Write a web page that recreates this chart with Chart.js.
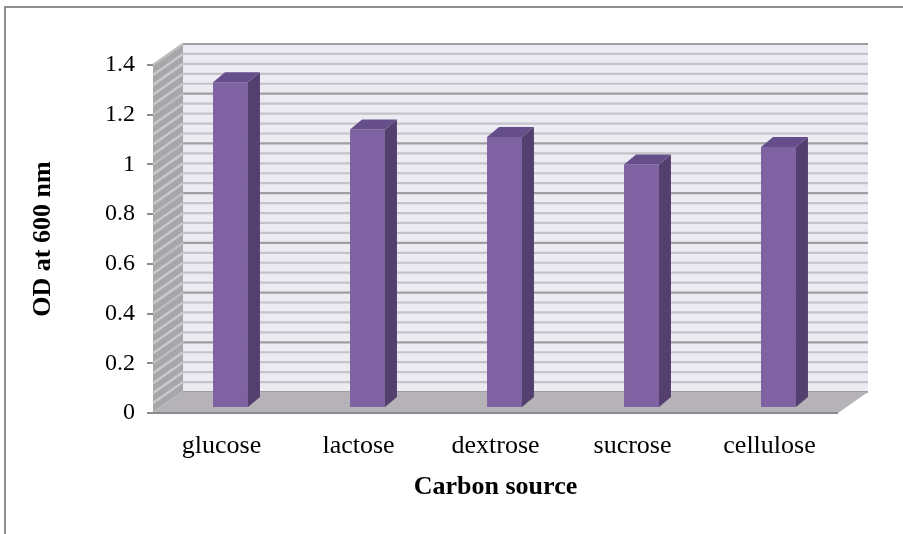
<!DOCTYPE html>
<html>
<head>
<meta charset="utf-8">
<script src="https://cdn.jsdelivr.net/npm/chart.js@4/dist/chart.umd.min.js"></script>
<style>
  html, body { margin: 0; padding: 0; background: #ffffff; }
  #wrap { width: 903px; height: 534px; position: relative; }
</style>
</head>
<body>
<div id="wrap"><canvas id="chart" width="903" height="534"></canvas></div>
<script>
// Optical density of the culture grown on each carbon source
const categories = ['glucose', 'lactose', 'dextrose', 'sucrose', 'cellulose'];
const odValues = [1.31, 1.12, 1.09, 0.98, 1.05];
const yTickLabels = ['0', '0.2', '0.4', '0.6', '0.8', '1', '1.2', '1.4'];
const yMax = 1.4;
const yStep = 0.2;
const minorStep = 0.04;

// Oblique 3-D look: depth of the walls/floor and of the bars
const WALL_DX = 30, WALL_DY = -21;
const BAR_SHIFT_X = 9, BAR_SHIFT_Y = -5;
const BAR_DX = 12, BAR_DY = -10;

const serif = "'Liberation Serif', 'Times New Roman', serif";

const frame3d = {
  id: 'frame3d',
  beforeDraw(chart) {
    const ctx = chart.ctx;
    ctx.save();
    ctx.strokeStyle = '#8f8f8f';
    ctx.lineWidth = 2;
    ctx.beginPath();
    ctx.moveTo(5, 1000);
    ctx.lineTo(5, 7);
    ctx.lineTo(1000, 7);
    ctx.stroke();
    ctx.restore();
  },
  beforeDatasetsDraw(chart) {
    const ctx = chart.ctx;
    const a = chart.chartArea;
    const ys = chart.scales.y;
    const L = a.left, R = a.right, T = ys.getPixelForValue(yMax), B = ys.getPixelForValue(0);
    ctx.save();

    // back wall
    ctx.fillStyle = '#ecebf2';
    ctx.fillRect(L + WALL_DX, T + WALL_DY, R - L, B - T);

    // left side wall
    ctx.fillStyle = '#a7a7aa';
    ctx.beginPath();
    ctx.moveTo(L, T);
    ctx.lineTo(L + WALL_DX, T + WALL_DY);
    ctx.lineTo(L + WALL_DX, B + WALL_DY);
    ctx.lineTo(L, B);
    ctx.closePath();
    ctx.fill();

    // grid lines on both walls
    const nMinor = Math.round(yMax / minorStep);
    const perMajor = Math.round(yStep / minorStep);
    for (let i = 0; i <= nMinor; i++) {
      const y = ys.getPixelForValue(i * minorStep);
      const major = i % perMajor === 0;
      ctx.lineWidth = 2.2;
      ctx.strokeStyle = major ? '#9f9fa3' : '#c4c3ca';
      ctx.beginPath();
      ctx.moveTo(L + WALL_DX, y + WALL_DY);
      ctx.lineTo(R + WALL_DX, y + WALL_DY);
      ctx.stroke();
      ctx.strokeStyle = major ? '#bdbdc0' : '#c9c9cc';
      ctx.lineWidth = 2.5;
      ctx.beginPath();
      ctx.moveTo(L, y);
      ctx.lineTo(L + WALL_DX, y + WALL_DY);
      ctx.stroke();
    }

    // floor
    ctx.fillStyle = '#b5b2b8';
    ctx.beginPath();
    ctx.moveTo(L, B);
    ctx.lineTo(R, B);
    ctx.lineTo(R + WALL_DX, B + WALL_DY);
    ctx.lineTo(L + WALL_DX, B + WALL_DY);
    ctx.closePath();
    ctx.fill();
    ctx.strokeStyle = '#8c8c8e';
    ctx.lineWidth = 2;
    ctx.beginPath();
    ctx.moveTo(L - 6, B);
    ctx.lineTo(R, B);
    ctx.stroke();

    // bars sit a little into the depth of the floor
    ctx.restore();
    ctx.save();
    ctx.translate(BAR_SHIFT_X, BAR_SHIFT_Y);
  },
  afterDatasetsDraw(chart) {
    const ctx = chart.ctx;
    const meta = chart.getDatasetMeta(0);
    meta.data.forEach(bar => {
      const p = bar.getProps(['x', 'y', 'base', 'width'], true);
      const left = p.x - p.width / 2, right = p.x + p.width / 2;
      // side face
      ctx.fillStyle = '#54406f';
      ctx.beginPath();
      ctx.moveTo(right, p.y);
      ctx.lineTo(right + BAR_DX, p.y + BAR_DY);
      ctx.lineTo(right + BAR_DX, p.base + BAR_DY);
      ctx.lineTo(right, p.base);
      ctx.closePath();
      ctx.fill();
      // top face
      ctx.fillStyle = '#664e8a';
      ctx.beginPath();
      ctx.moveTo(left, p.y);
      ctx.lineTo(left + BAR_DX, p.y + BAR_DY);
      ctx.lineTo(right + BAR_DX, p.y + BAR_DY);
      ctx.lineTo(right, p.y);
      ctx.closePath();
      ctx.fill();
    });
    ctx.restore();
  }
};

new Chart(document.getElementById('chart'), {
  type: 'bar',
  data: {
    labels: categories,
    datasets: [{
      label: 'OD at 600 nm',
      data: odValues,
      backgroundColor: '#7e62a1',
      borderWidth: 0,
      barPercentage: 0.255,
      categoryPercentage: 1.0
    }]
  },
  options: {
    responsive: false,
    animation: false,
    layout: { padding: { top: 65, right: 65, left: 0, bottom: 0 } },
    plugins: { legend: { display: false }, tooltip: { enabled: false } },
    scales: {
      x: {
        afterFit(s) { s.height = 121; },
        grid: { display: false, drawTicks: false },
        border: { display: false },
        ticks: { color: '#000', padding: 18, font: { family: serif, size: 26 } },
        title: {
          display: true, text: 'Carbon source', color: '#000',
          font: { family: serif, size: 26, weight: 'bold' },
          padding: { top: 0, bottom: 31 }
        }
      },
      y: {
        min: 0, max: yMax,
        afterFit(s) { s.width = 153; },
        grid: { drawOnChartArea: false, drawTicks: true, tickLength: 6, color: '#8c8c8e', lineWidth: 2 },
        border: { display: true, color: '#9a9a9c', width: 1 },
        ticks: {
          stepSize: yStep, color: '#000', padding: 12,
          font: { family: serif, size: 24 },
          callback: (v, i) => yTickLabels[i]
        },
        title: {
          display: true, text: 'OD at 600 nm', color: '#000',
          font: { family: serif, size: 26, weight: 'bold' },
          padding: { top: 28, bottom: 0 }
        }
      }
    }
  },
  plugins: [frame3d]
});
</script>
</body>
</html>
